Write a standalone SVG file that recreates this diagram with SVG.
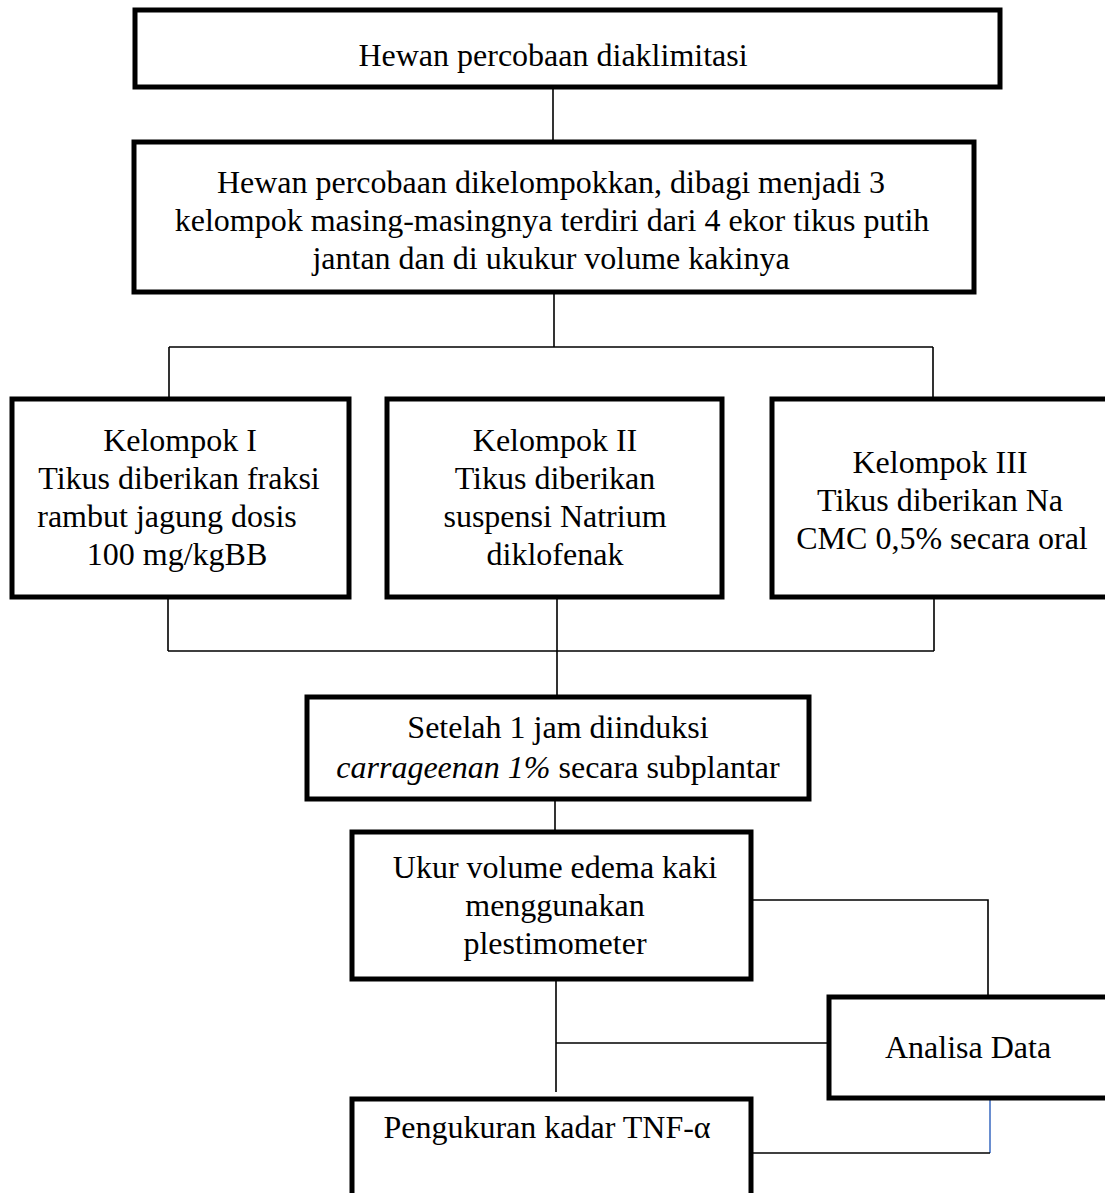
<svg xmlns="http://www.w3.org/2000/svg" width="1105" height="1193" viewBox="0 0 1105 1193">
<style>
.box{fill:#fff;stroke:#000;stroke-width:5}
.t{font-family:"Liberation Serif","Times New Roman",serif;font-size:32px;fill:#000;text-anchor:middle}
.c{fill:none;stroke:#000;stroke-width:1.6}
</style>
<rect width="1105" height="1193" fill="#fff"/>
<g id="connectors">
<path class="c" d="M553,87V140"/>
<path class="c" d="M554,292V347"/>
<path class="c" d="M169,347H933M169,347V403M933,347V397"/>
<path class="c" d="M168,599V651M934,599V651M168,651H934M557,599V695"/>
<path class="c" d="M555,799V830"/>
<path class="c" d="M752,900H988V995"/>
<path class="c" d="M556,980V1092M556,1043H827"/>
<path fill="none" stroke="#4472C4" stroke-width="1.6" d="M990,1099V1153"/>
<path class="c" d="M752,1153H990"/>
</g>
<g id="n1">
<rect class="box" x="135" y="10" width="865" height="77"/>
<text class="t" x="553" y="66">Hewan percobaan diaklimitasi</text>
</g>
<g id="n2">
<rect class="box" x="134" y="142" width="840" height="150"/>
<text class="t" x="551" y="193">Hewan percobaan dikelompokkan, dibagi menjadi 3</text>
<text class="t" x="552" y="231">kelompok masing-masingnya terdiri dari 4 ekor tikus putih</text>
<text class="t" x="551" y="269">jantan dan di ukukur volume kakinya</text>
</g>
<g id="n3">
<rect class="box" x="12" y="399" width="337" height="198"/>
<text class="t" x="180" y="451">Kelompok I</text>
<text class="t" x="179" y="489">Tikus diberikan fraksi</text>
<text class="t" x="167" y="527">rambut jagung dosis</text>
<text class="t" x="177" y="565">100 mg/kgBB</text>
</g>
<g id="n4">
<rect class="box" x="387" y="399" width="335" height="198"/>
<text class="t" x="555" y="451">Kelompok II</text>
<text class="t" x="555" y="489">Tikus diberikan</text>
<text class="t" x="555" y="527">suspensi Natrium</text>
<text class="t" x="555" y="565">diklofenak</text>
</g>
<g id="n5">
<rect class="box" x="772" y="399" width="340" height="198"/>
<text class="t" x="940" y="473">Kelompok III</text>
<text class="t" x="940" y="511">Tikus diberikan Na</text>
<text class="t" x="942" y="549">CMC 0,5%  secara oral</text>
</g>
<g id="n6">
<rect class="box" x="307" y="697" width="502" height="102"/>
<text class="t" x="558" y="738">Setelah 1 jam diinduksi</text>
<text class="t" x="558" y="778"><tspan font-style="italic">carrageenan 1%</tspan> secara subplantar</text>
</g>
<g id="n7">
<rect class="box" x="352" y="832" width="399" height="147"/>
<text class="t" x="555" y="878">Ukur volume edema kaki</text>
<text class="t" x="555" y="916">menggunakan</text>
<text class="t" x="555" y="954">plestimometer</text>
</g>
<g id="n8">
<rect class="box" x="829" y="997" width="280" height="101"/>
<text class="t" x="968" y="1058">Analisa Data</text>
</g>
<g id="n9">
<rect class="box" x="352" y="1099" width="399" height="110"/>
<text class="t" x="547" y="1138">Pengukuran kadar TNF-α</text>
</g>
</svg>
